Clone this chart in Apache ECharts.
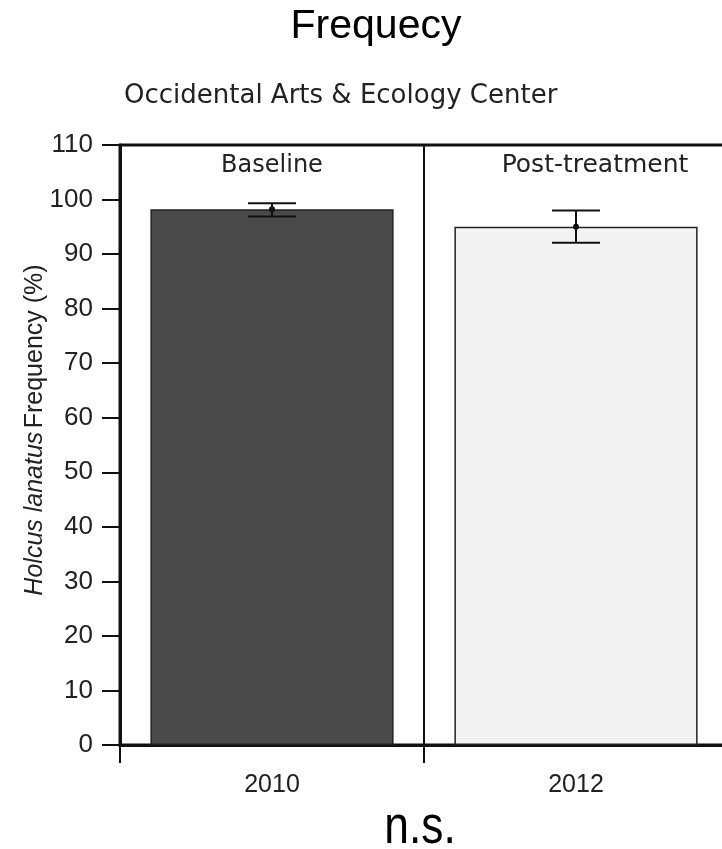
<!DOCTYPE html>
<html>
<head>
<meta charset="utf-8">
<script src="https://cdn.jsdelivr.net/npm/echarts@6/dist/echarts.min.js"></script>
<style>
  html, body { margin: 0; padding: 0; background: #fff; overflow: hidden; }
  /* a bit wider than the window: the right edge of the plot is cut off like in the original */
  #chart { width: 740px; height: 849px; }
</style>
</head>
<body>
<div id="chart"></div>
<script>
// values
const years = ['2010', '2012']
const panelNames = ['Baseline', 'Post-treatment']
const means = [98.2, 95.0]
const lows = [96.9, 92.1]
const highs = [99.3, 98.0]
const barColors = ['#4a4a4a', '#f3f3f3']
const panelLabelY = 106.2

const chart = echarts.init(document.getElementById('chart'))

const tickFont = '"Liberation Sans", Arial, Helvetica, sans-serif'
const panelFont = '"DejaVu Sans", Verdana, sans-serif'

var option = {
  animation: false,
  grid: {
    left: 120,
    top: 145,
    width: 608,
    height: 600,
    show: true,
    borderColor: '#111',
    borderWidth: 3,
    backgroundColor: 'transparent'
  },
  graphic: [
    {
      type: 'text', x: 376, y: 27,
      style: { text: 'Frequecy', font: '41px ' + tickFont, fill: '#000', textAlign: 'center', textVerticalAlign: 'middle' }
    },
    {
      type: 'text', x: 124, y: 96,
      style: { text: 'Occidental Arts & Ecology Center', font: '26px ' + panelFont, fill: '#222', textAlign: 'left', textVerticalAlign: 'middle' }
    },
    {
      type: 'text', x: 35, y: 430, rotation: Math.PI / 2,
      style: {
        text: '{i|Holcus lanatus} {n|Frequency (%)}',
        textAlign: 'center', textVerticalAlign: 'middle',
        rich: {
          i: { font: 'italic 25px ' + tickFont, fill: '#222' },
          n: { font: '25px ' + tickFont, fill: '#222' }
        }
      }
    },
    {
      type: 'text', x: 420, y: 828, scaleX: 0.82,
      style: { text: 'n.s.', font: '54px ' + tickFont, fill: '#000', textAlign: 'center', textVerticalAlign: 'middle' }
    }
  ],
  xAxis: {
    type: 'category',
    data: years,
    axisLine: { lineStyle: { color: '#111', width: 3 } },
    axisTick: { show: true, length: 18, lineStyle: { color: '#111', width: 2 } },
    axisLabel: { margin: 28, fontSize: 25, fontFamily: tickFont, color: '#222' },
    splitLine: { show: true, lineStyle: { color: '#111', width: 2 } }
  },
  yAxis: {
    type: 'value',
    min: 0,
    max: 110,
    interval: 10,
    axisLine: { show: true, lineStyle: { color: '#111', width: 3 } },
    axisTick: { show: true, length: 18, lineStyle: { color: '#111', width: 2 } },
    axisLabel: { margin: 27, fontSize: 26, fontFamily: tickFont, color: '#222' },
    splitLine: { show: false }
  },
  series: [
    {
      type: 'bar',
      barWidth: '80%',
      data: means.map((v, i) => ({
        value: v,
        itemStyle: { color: barColors[i], borderColor: '#222', borderWidth: 1.5 }
      }))
    },
    {
      type: 'custom',
      data: years.map((y, i) => [i, lows[i], highs[i], means[i]]),
      renderItem: (params, api) => {
        var lo = api.coord([api.value(0), api.value(1)])
        var hi = api.coord([api.value(0), api.value(2)])
        var m = api.coord([api.value(0), api.value(3)])
        var half = 24
        var st = { stroke: '#111', lineWidth: 2 }
        return {
          type: 'group',
          children: [
            { type: 'line', shape: { x1: lo[0], y1: lo[1], x2: hi[0], y2: hi[1] }, style: st },
            { type: 'line', shape: { x1: hi[0] - half, y1: hi[1], x2: hi[0] + half, y2: hi[1] }, style: st },
            { type: 'line', shape: { x1: lo[0] - half, y1: lo[1], x2: lo[0] + half, y2: lo[1] }, style: st },
            { type: 'circle', shape: { cx: m[0], cy: m[1], r: 3 }, style: { fill: '#111' } }
          ]
        }
      },
      z: 5
    },
    {
      type: 'scatter',
      symbolSize: 1,
      itemStyle: { color: 'transparent', opacity: 1 },
      data: panelNames.map((n, i) => ({
        value: [i, panelLabelY],
        name: n,
        label: i == 1 ? { offset: [19, 0], fontSize: 25 } : { offset: [0, 0] }
      })),
      label: {
        show: true,
        position: 'inside',
        formatter: (p) => p.name,
        fontFamily: panelFont,
        fontSize: 24,
        color: '#222',
        textBorderWidth: 0
      },
      silent: true
    }
  ]
}

chart.setOption(option)
</script>
</body>
</html>
